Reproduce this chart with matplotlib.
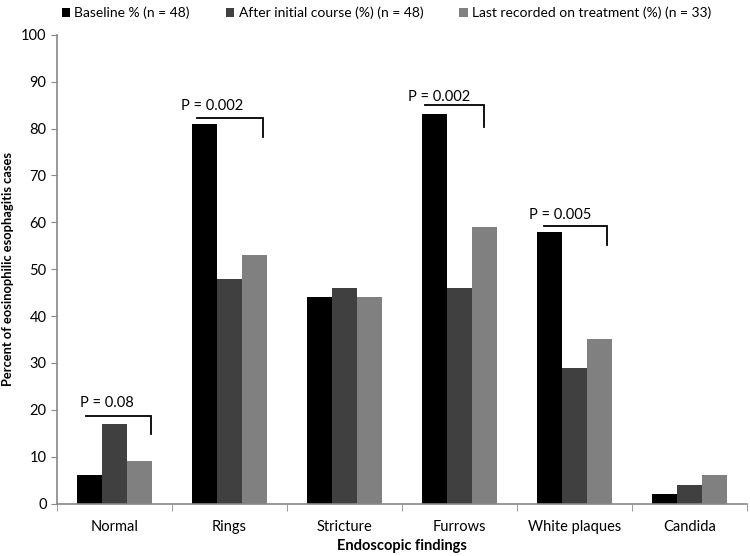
import numpy as np
import matplotlib
matplotlib.use("Agg")
import matplotlib.pyplot as plt

plt.rcParams['font.family'] = ['Lato', 'DejaVu Sans']

categories = ["Normal", "Rings", "Stricture", "Furrows", "White plaques", "Candida"]
baseline = [6, 81, 44, 83, 58, 2]
after_initial = [17, 48, 46, 46, 29, 4]
last_recorded = [9, 53, 44, 59, 35, 6]
series_names = ["Baseline % (n = 48)",
                "After initial course (%) (n = 48)",
                "Last recorded on treatment (%) (n = 33)"]
colors = ["#000000", "#404040", "#808080"]

p_labels = ["P = 0.08", "P = 0.002", "P = 0.002", "P = 0.005"]
p_category = [0, 1, 3, 4]
# bracket: (x start offset, x end offset, line y, end y, text x offset, text y)
brackets = [(-0.25, 0.315, 18.7, 14.8, -0.07, 21.5),
            (-0.28, 0.29, 82.2, 78.3, -0.155, 84.8),
            (-0.30, 0.216, 85.1, 80.4, -0.178, 86.8),
            (-0.265, 0.285, 59.2, 55.2, -0.126, 61.6)]

fig = plt.figure(figsize=(7.5, 5.56), dpi=100)
ax = fig.add_axes([0.076, 0.0944, 0.92, 0.843])

x = np.arange(len(categories))
w = 0.22
bars = []
for k, vals in enumerate([baseline, after_initial, last_recorded]):
  b = ax.bar(x + (k - 1) * w, vals, width=w, color=colors[k], label=series_names[k])
  bars.append(b)

for lab, cat, (x0, x1, yl, ye, tx, ty) in zip(p_labels, p_category, brackets):
  ax.plot([cat + x0, cat + x1, cat + x1], [yl, yl, ye], color="black", lw=1.3,
          solid_joinstyle="miter")
  ax.text(cat + tx, ty, lab, ha="center", va="center", fontsize=10.5)

ax.set_xlim(-0.5, 5.5)
ax.set_ylim(0, 100)
ax.set_yticks(range(0, 101, 10))
ax.set_xticks(x)
ax.set_xticklabels(categories, fontsize=10.5)
ax.set_xticks(np.arange(-0.5, 6, 1), minor=True)
ax.tick_params(axis="x", which="major", length=0, pad=12)
ax.tick_params(axis="x", which="minor", length=5, color="#888888", direction="out")
ax.tick_params(axis="y", length=4, color="#888888", labelsize=10.5, direction="out")

for s in ["top", "right"]:
  ax.spines[s].set_visible(False)
for s in ["left", "bottom"]:
  ax.spines[s].set_color("#888888")
  ax.spines[s].set_linewidth(1.2)

ax.set_xlabel("Endoscopic findings", fontsize=10.5, fontweight="bold")
ax.xaxis.set_label_coords(0.5, -0.075)
ax.set_ylabel("Percent of eosinophilic esophagitis cases", fontsize=9.3,
              fontweight="bold")
ax.yaxis.set_label_coords(-0.063, 0.5)

fig.legend(handles=bars, labels=series_names, loc="upper left",
           bbox_to_anchor=(0.066, 1.01), ncol=3, frameon=False, fontsize=10,
           handlelength=0.6, handleheight=0.6, handletextpad=0.3, columnspacing=2.6)

fig.savefig("out.png", dpi=100)
